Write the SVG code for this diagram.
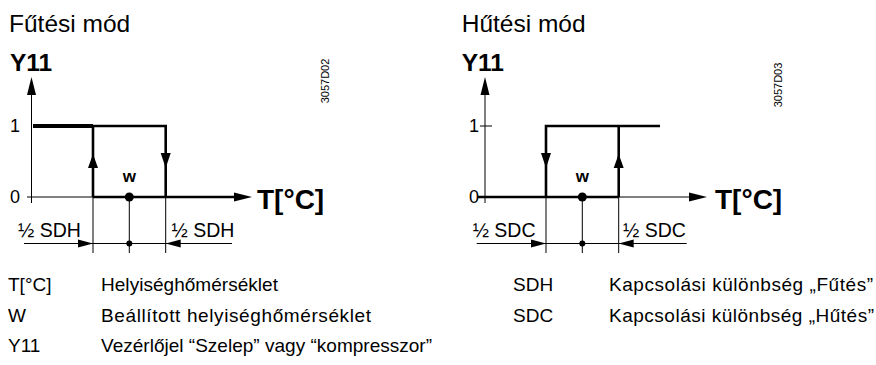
<svg xmlns="http://www.w3.org/2000/svg" width="876" height="365" viewBox="0 0 876 365">
<style>
text{font-family:"Liberation Sans",Arial,sans-serif;fill:#000}
.title{font-size:24.5px}
.ax{font-size:24.5px;font-weight:bold}
.tl{font-size:28px;font-weight:bold}
.num{font-size:18px}
.w{font-size:17px;font-weight:bold;text-anchor:middle}
.dim{font-size:19.5px}
.code{font-size:11px;text-anchor:middle}
.leg{font-size:19px}
.thin{stroke:#000;stroke-width:1;fill:none}
.thick{stroke:#000;stroke-width:2.6;fill:none}
.ah{fill:#000}
</style>
<rect width="876" height="365" fill="#fff"/>

<g id="heating">
  <text class="title" x="9" y="32">Fűtési mód</text>
  <text class="ax" x="10" y="71">Y11</text>
  <text class="num" x="10" y="132">1</text>
  <text class="num" x="10" y="203">0</text>
  <text class="tl" x="257" y="209">T[°C]</text>
  <text class="w" x="129.3" y="182">w</text>
  <text class="dim" x="18" y="237">½ SDH</text>
  <text class="dim" x="171.5" y="237">½ SDH</text>
  <text class="code" transform="translate(329,81) rotate(-90)">3057D02</text>
</g>

<g id="cooling">
  <text class="title" x="461.7" y="32">Hűtési mód</text>
  <text class="ax" x="461.7" y="71">Y11</text>
  <text class="num" x="469" y="132">1</text>
  <text class="num" x="469" y="203">0</text>
  <text class="tl" x="715" y="209">T[°C]</text>
  <text class="w" x="582.3" y="182">w</text>
  <text class="dim" x="472.7" y="237">½ SDC</text>
  <text class="dim" x="623" y="237">½ SDC</text>
  <text class="code" transform="translate(782,85) rotate(-90)">3057D03</text>
</g>

<g id="legend">
  <text class="leg" x="8" y="291">T[°C]</text>
  <text class="leg" x="101" y="291" textLength="177">Helyiséghőmérséklet</text>
  <text class="leg" x="8" y="321.5">W</text>
  <text class="leg" x="101" y="321.5" textLength="270">Beállított helyiséghőmérséklet</text>
  <text class="leg" x="8" y="352">Y11</text>
  <text class="leg" x="101" y="352" textLength="331">Vezérlőjel “Szelep” vagy “kompresszor”</text>
  <text class="leg" x="513" y="291">SDH</text>
  <text class="leg" x="609" y="291" textLength="264">Kapcsolási különbség „Fűtés”</text>
  <text class="leg" x="513" y="321.5">SDC</text>
  <text class="leg" x="609" y="321.5" textLength="265">Kapcsolási különbség „Hűtés”</text>
</g>

<g id="connectors">
  <line class="thin" x1="31.5" y1="90" x2="31.5" y2="203"/>
  <polygon class="ah" points="31.5,77 27,95 36,95"/>
  <line class="thin" x1="27" y1="197" x2="93" y2="197"/>
  <line class="thick" x1="93" y1="197" x2="236" y2="197"/>
  <polygon class="ah" points="252,197 234,192.5 234,201.5"/>
  <line stroke="#000" stroke-width="4" x1="33" y1="126" x2="93" y2="126"/>
  <polyline class="thick" points="93,197 93,126 165.7,126 165.7,197"/>
  <polygon class="ah" points="93,154 88,168 98,168"/>
  <polygon class="ah" points="165.7,168 160.7,153 170.7,153"/>
  <circle cx="129.3" cy="197" r="4.5"/>
  <line class="thin" x1="93" y1="197" x2="93" y2="253"/>
  <line class="thin" x1="129.3" y1="197" x2="129.3" y2="253"/>
  <line class="thin" x1="165.7" y1="197" x2="165.7" y2="253"/>
  <line class="thin" x1="24" y1="243.5" x2="232" y2="243.5"/>
  <polygon class="ah" points="93,243.5 78,239.5 78,247.5"/>
  <polygon class="ah" points="165.7,243.5 180.7,239.5 180.7,247.5"/>
  <circle cx="129.3" cy="243.5" r="3"/>

  <line class="thin" x1="485" y1="90" x2="485" y2="203"/>
  <polygon class="ah" points="485,77 480.5,95 489.5,95"/>
  <line class="thin" x1="480" y1="126" x2="492" y2="126"/>
  <line class="thick" x1="478" y1="197" x2="618.7" y2="197"/>
  <line class="thin" x1="618.7" y1="197" x2="691" y2="197"/>
  <polygon class="ah" points="707,197 689,192.5 689,201.5"/>
  <polyline class="thick" points="546,197 546,126 660,126"/>
  <line class="thick" x1="618.7" y1="126" x2="618.7" y2="197"/>
  <polygon class="ah" points="546,168 541,153 551,153"/>
  <polygon class="ah" points="618.7,154 613.7,168 623.7,168"/>
  <circle cx="582.3" cy="197" r="4.5"/>
  <line class="thin" x1="546" y1="197" x2="546" y2="253"/>
  <line class="thin" x1="582.3" y1="197" x2="582.3" y2="253"/>
  <line class="thin" x1="618.7" y1="197" x2="618.7" y2="253"/>
  <line class="thin" x1="476.7" y1="243.5" x2="686.7" y2="243.5"/>
  <polygon class="ah" points="546,243.5 531,239.5 531,247.5"/>
  <polygon class="ah" points="618.7,243.5 633.7,239.5 633.7,247.5"/>
  <circle cx="582.3" cy="243.5" r="3"/>
</g>
</svg>
